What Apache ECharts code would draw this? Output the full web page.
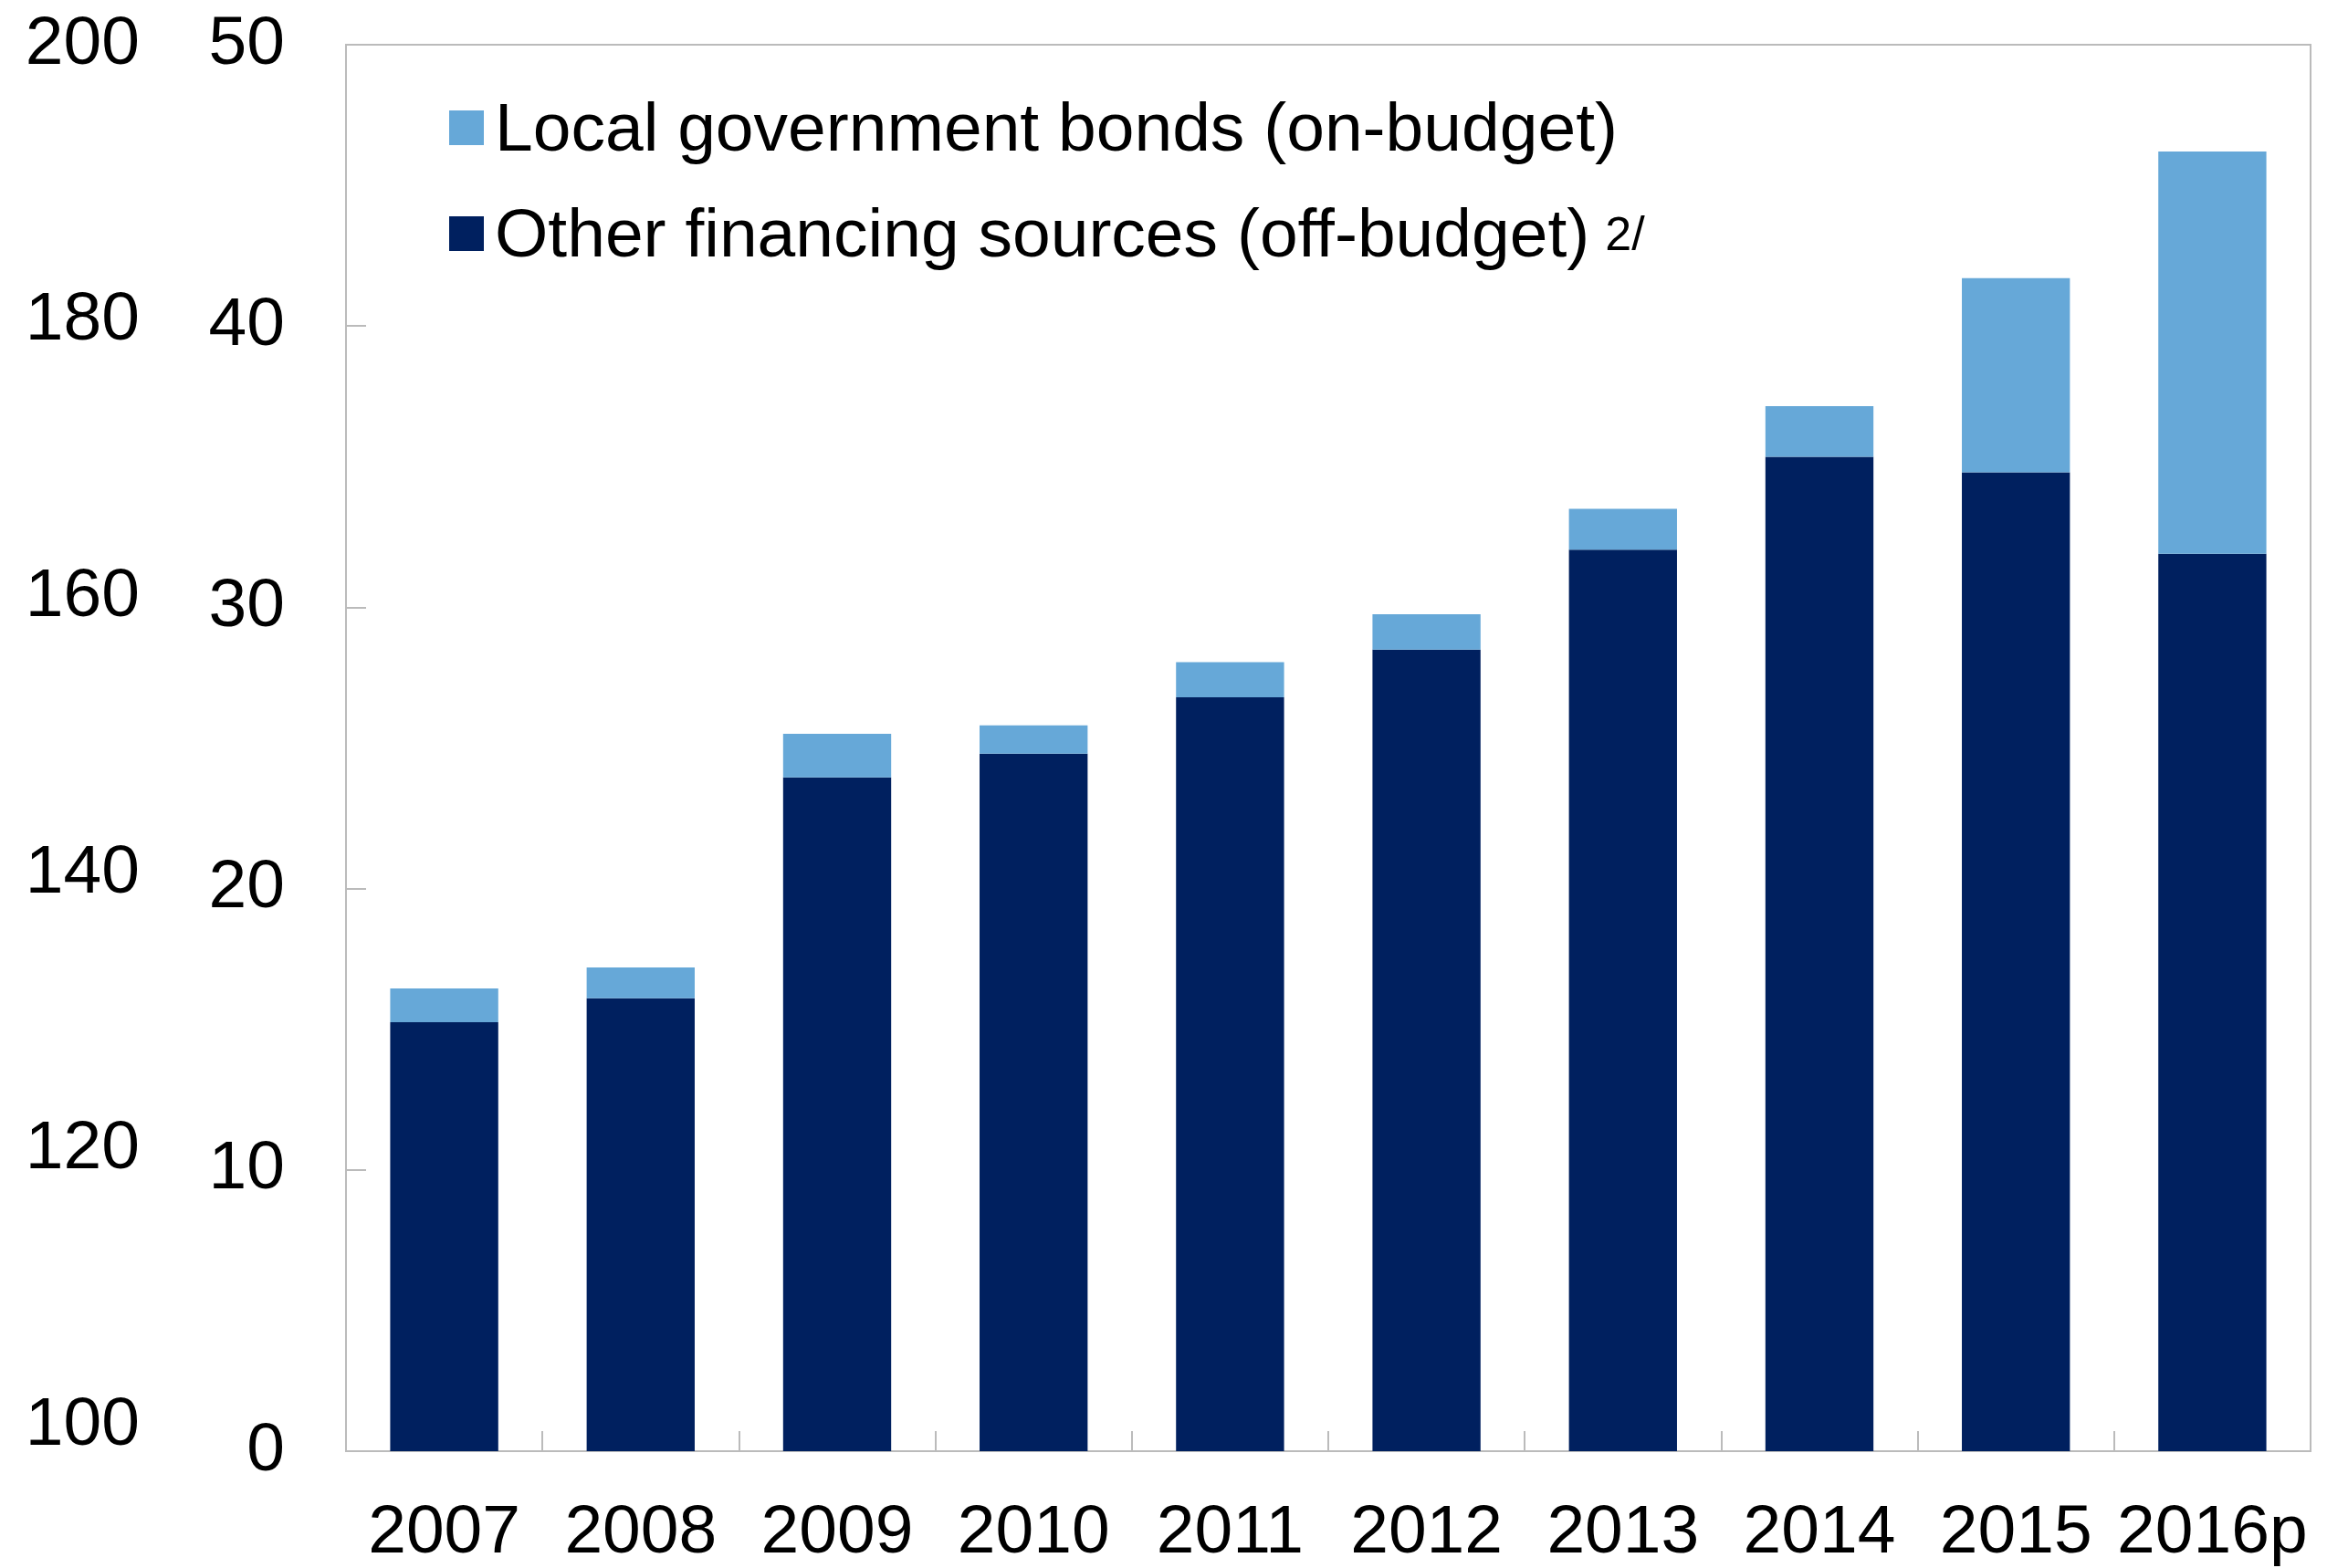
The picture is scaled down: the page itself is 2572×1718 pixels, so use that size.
<!DOCTYPE html>
<html>
<head>
<meta charset="utf-8">
<style>
  html, body { margin: 0; padding: 0; background: #ffffff; }
  #chart { width: 2572px; height: 1718px; }
</style>
<script src="https://cdn.jsdelivr.net/npm/echarts@6/dist/echarts.min.js"></script>
</head>
<body>
<div id="chart"></div>
<script>
// Categories (years, p = projection)
const years = ['2007', '2008', '2009', '2010', '2011', '2012', '2013', '2014', '2015', '2016p'];
// Off-budget financing (bottom segment)
const otherFinancing = [15.25, 16.1, 23.95, 24.8, 26.8, 28.5, 32.05, 35.35, 34.8, 31.9];
// On-budget local government bonds (top segment)
const localBonds = [1.2, 1.1, 1.55, 1.0, 1.25, 1.25, 1.45, 1.8, 6.9, 14.3];
// Tick labels
const rightTicks = [0, 10, 20, 30, 40, 50];
const leftTicks = [100, 120, 140, 160, 180, 200];

const LOCAL_NAME = 'Local government bonds (on-budget)';
const OTHER_NAME = 'Other financing sources (off-budget)';

const FONT = '"Liberation Sans", Arial, sans-serif';
const GRAY = '#BBBBBB';
const FS = 75;

const chart = echarts.init(document.getElementById('chart'), null, { renderer: 'canvas' });

chart.setOption({
  backgroundColor: '#ffffff',
  animation: false,
  textStyle: { fontFamily: FONT, color: '#000' },
  grid: {
    left: 379, right: 41, top: 49, bottom: 127,
    show: true, borderColor: GRAY, borderWidth: 2, backgroundColor: 'transparent'
  },
  legend: {
    orient: 'vertical',
    left: 487,
    top: 102,
    itemWidth: 38,
    itemHeight: 38,
    itemGap: 41,
    icon: 'rect',
    data: [LOCAL_NAME, OTHER_NAME],
    formatter: function (name) {
      return name === OTHER_NAME ? '{m|' + name + '}{s|2/}' : '{m|' + name + '}';
    },
    textStyle: {
      fontFamily: FONT,
      color: '#000',
      rich: {
        m: { fontSize: FS, lineHeight: 84, fontFamily: FONT, color: '#000', verticalAlign: 'bottom', padding: [0, 0, 0, 7] },
        s: { fontSize: 52, lineHeight: 84, fontFamily: FONT, color: '#000', verticalAlign: 'bottom', padding: [0, 0, 12, 17] }
      }
    }
  },
  xAxis: {
    type: 'category',
    data: years,
    axisLine: { show: true, lineStyle: { color: GRAY, width: 2 } },
    axisTick: { show: true, inside: true, length: 22, interval: 0, alignWithLabel: false, lineStyle: { color: GRAY, width: 2 } },
    axisLabel: { fontSize: FS, color: '#000', fontFamily: FONT, margin: 53, interval: 0 },
    splitLine: { show: false }
  },
  yAxis: [
    {
      type: 'value',
      position: 'left',
      min: 0, max: 50, interval: 10,
      axisLine: { show: true, lineStyle: { color: GRAY, width: 2 } },
      axisTick: { show: true, inside: true, length: 22, lineStyle: { color: GRAY, width: 2 } },
      axisLabel: { fontSize: FS, color: '#000', fontFamily: FONT, margin: 67, customValues: rightTicks },
      splitLine: { show: false }
    },
    {
      type: 'value',
      position: 'left',
      offset: 159,
      min: 98.16, max: 200,
      axisLine: { show: false },
      axisTick: { show: false },
      axisLabel: { fontSize: FS, color: '#000', fontFamily: FONT, margin: 67, customValues: leftTicks },
      splitLine: { show: false }
    }
  ],
  series: [
    {
      name: OTHER_NAME,
      type: 'bar',
      stack: 'total',
      yAxisIndex: 0,
      barWidth: '55%',
      itemStyle: { color: '#00205F' },
      data: otherFinancing
    },
    {
      name: LOCAL_NAME,
      type: 'bar',
      stack: 'total',
      yAxisIndex: 0,
      barWidth: '55%',
      itemStyle: { color: '#66A8D8' },
      data: localBonds
    }
  ]
});
</script>
</body>
</html>
